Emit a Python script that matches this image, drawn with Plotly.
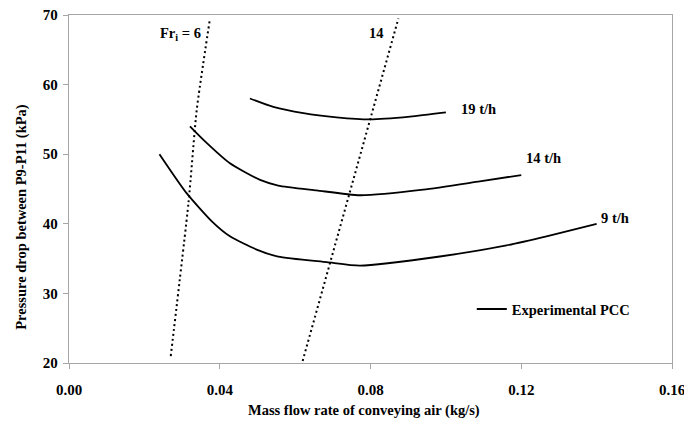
import plotly.graph_objects as go

# Experimental pressure-drop curves (mass flow of air in kg/s, pressure drop in kPa)
x_9th = [0.024, 0.0312, 0.0379, 0.0427, 0.0498, 0.0555, 0.0684, 0.0772, 0.0984, 0.1161, 0.1267, 0.140]
p_9th = [50.0, 44.4, 40.35, 38.2, 36.3, 35.3, 34.5, 34.0, 35.3, 36.9, 38.2, 40.0]

x_14th = [0.0321, 0.0356, 0.0427, 0.0507, 0.0555, 0.0657, 0.0772, 0.094, 0.109, 0.120]
p_14th = [54.0, 52.1, 48.7, 46.3, 45.5, 44.8, 44.1, 44.9, 46.1, 47.0]

x_19th = [0.048, 0.0542, 0.0622, 0.071, 0.0799, 0.0905, 0.100]
p_19th = [58.0, 56.8, 55.9, 55.3, 55.0, 55.4, 56.0]

# Constant Froude number lines
x_fr6 = [0.027, 0.0317, 0.0339, 0.0373]
p_fr6 = [21.0, 43.0, 56.4, 69.1]
x_fr14 = [0.062, 0.0874]
p_fr14 = [20.3, 69.5]

x_ticks = [0.00, 0.04, 0.08, 0.12, 0.16]
y_ticks = [20, 30, 40, 50, 60, 70]

FONT = "Liberation Serif"
GRID = "#a6a6a6"

fig = go.Figure()

for xs, ps, show in [(x_9th, p_9th, True), (x_14th, p_14th, False), (x_19th, p_19th, False)]:
    fig.add_trace(go.Scatter(
        x=xs, y=ps, mode="lines", name="Experimental PCC",
        line=dict(color="black", width=1.8, shape="spline", smoothing=0.6),
        showlegend=show,
    ))

for xs, ps in [(x_fr6, p_fr6), (x_fr14, p_fr14)]:
    fig.add_trace(go.Scatter(
        x=xs, y=ps, mode="lines", showlegend=False,
        line=dict(color="black", width=2, dash="2px,3px", shape="spline", smoothing=0.6),
    ))

labels = [
    ("Fr<sub>i</sub> = 6", 0.0236, 67.3, "left"),
    ("14", 0.0816, 67.4, "center"),
    ("19 t/h", 0.1035, 56.5, "left"),
    ("14 t/h", 0.1207, 49.4, "left"),
    ("9 t/h", 0.1406, 40.8, "left"),
]
for text, xv, yv, anchor in labels:
    fig.add_annotation(x=xv, y=yv, text=f"<b>{text}</b>", showarrow=False,
                       xanchor=anchor, yanchor="middle",
                       font=dict(family=FONT, size=14.5, color="black"))

axis_common = dict(
    showgrid=False, zeroline=False, showline=True, linecolor=GRID, linewidth=1.3,
    mirror=True, ticks="outside", ticklen=5, tickcolor=GRID, tickwidth=1.3,
    tickfont=dict(family=FONT, size=15, color="black"), automargin=False,
    ticklabeloverflow="allow",
)

fig.update_xaxes(range=[0, 0.16], tickvals=x_ticks,
                 ticktext=[f"<b>{v:.2f}</b>" for v in x_ticks],
                 ticklabelstandoff=8, **axis_common)
fig.update_yaxes(range=[20, 70], tickvals=y_ticks,
                 ticktext=[f"<b>{v}</b>" for v in y_ticks],
                 ticklabelstandoff=2, **axis_common)

fig.add_annotation(xref="paper", yref="paper", x=0.49, y=0, yshift=-47,
                   text="<b>Mass flow rate of conveying air (kg/s)</b>", showarrow=False,
                   xanchor="center", yanchor="middle",
                   font=dict(family=FONT, size=14.5, color="black"))
fig.add_annotation(xref="paper", yref="paper", x=0, xshift=-47, y=0.42,
                   text="<b>Pressure drop between P9-P11 (kPa)</b>", showarrow=False,
                   textangle=-90, xanchor="center", yanchor="middle",
                   font=dict(family=FONT, size=14.5, color="black"))

fig.update_layout(
    width=684, height=425,
    margin=dict(l=69, r=12, t=15, b=62, autoexpand=False),
    paper_bgcolor="white", plot_bgcolor="white",
    legend=dict(x=0.668, y=0.155, xanchor="left", yanchor="middle",
                bgcolor="rgba(0,0,0,0)", itemwidth=30,
                font=dict(family=FONT, size=14.5, color="black", weight="bold")),
)

fig.write_html("out.html")
